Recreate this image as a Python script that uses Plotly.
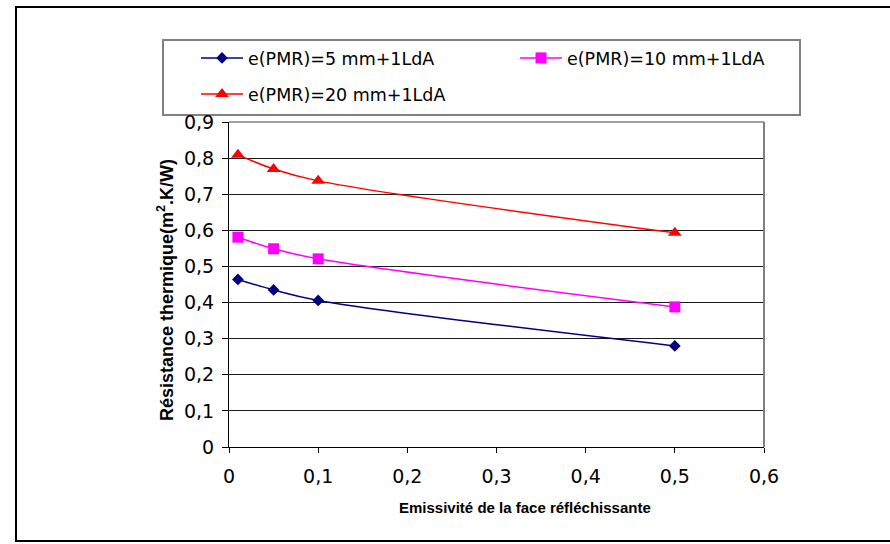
import plotly.graph_objects as go

emissivity = [0.01, 0.05, 0.1, 0.5]
r_5mm = [0.464, 0.435, 0.406, 0.280]
r_10mm = [0.581, 0.549, 0.521, 0.388]
r_20mm = [0.809, 0.770, 0.737, 0.593]

names = ["e(PMR)=5 mm+1LdA", "e(PMR)=10 mm+1LdA", "e(PMR)=20 mm+1LdA"]
x_ticks = [0, 0.1, 0.2, 0.3, 0.4, 0.5, 0.6]
x_ticktext = ["0", "0,1", "0,2", "0,3", "0,4", "0,5", "0,6"]
y_ticks = [0, 0.1, 0.2, 0.3, 0.4, 0.5, 0.6, 0.7, 0.8, 0.9]
y_ticktext = ["0", "0,1", "0,2", "0,3", "0,4", "0,5", "0,6", "0,7", "0,8", "0,9"]

W, H = 890, 544
L, R, T, B = 229, 764, 122, 447
pw, ph = R - L, B - T

def px(x):
    return (x - L) / pw

def py(y):
    return (B - y) / ph

FONT = "Liberation Sans, Arial, sans-serif"
WIDE = "DejaVu Sans, Verdana, sans-serif"

fig = go.Figure()
fig.add_trace(go.Scatter(x=emissivity, y=r_5mm, name=names[0], mode="lines+markers",
                         line=dict(color="#000080", width=1.5, shape="spline"),
                         marker=dict(symbol="diamond", size=9, color="#000080"),
                         legend="legend"))
fig.add_trace(go.Scatter(x=emissivity, y=r_10mm, name=names[1], mode="lines+markers",
                         line=dict(color="#FF00FF", width=1.5, shape="spline"),
                         marker=dict(symbol="square", size=11, color="#FF00FF"),
                         legend="legend"))
fig.add_trace(go.Scatter(x=emissivity, y=r_20mm, name=names[2], mode="lines+markers",
                         line=dict(color="#FF0000", width=1.5, shape="spline"),
                         marker=dict(symbol="triangle-up", size=12, color="#FF0000"),
                         legend="legend2"))

legend_common = dict(orientation="h", xanchor="left", yanchor="middle",
                     bgcolor="rgba(0,0,0,0)", borderwidth=0,
                     font=dict(family=WIDE, size=17.5, color="#000"),
                     entrywidthmode="pixels", entrywidth=262, itemwidth=42)

fig.update_layout(
    width=W, height=H,
    margin=dict(l=L, r=W - R, t=T, b=H - B),
    paper_bgcolor="white", plot_bgcolor="white",
    font=dict(family=FONT, size=14, color="#000"),
    showlegend=True,
    legend=dict(x=px(196), y=py(58), **legend_common),
    legend2=dict(x=px(196), y=py(94), **legend_common),
    xaxis=dict(range=[0, 0.6], tickvals=x_ticks, ticktext=x_ticktext,
               showgrid=False, zeroline=False, showline=True, linecolor="#000", linewidth=1,
               ticks="outside", ticklen=5, tickcolor="#000", tickwidth=1,
               ticklabelstandoff=7, tickfont=dict(family=WIDE, size=19)),
    yaxis=dict(range=[0, 0.9], tickvals=y_ticks, ticktext=y_ticktext,
               showgrid=True, gridcolor="#1a1a1a", gridwidth=1, zeroline=False,
               showline=True, linecolor="#000", linewidth=1,
               ticks="outside", ticklen=6, tickcolor="#000", tickwidth=1,
               ticklabelstandoff=4, tickfont=dict(family=WIDE, size=19)),
    shapes=[
        # outer chart frame
        dict(type="rect", xref="paper", yref="paper",
             x0=px(16), x1=px(900), y0=py(541), y1=py(7),
             line=dict(color="#000", width=2), layer="below"),
        # legend frame
        dict(type="rect", xref="paper", yref="paper",
             x0=px(163), x1=px(800), y0=py(115), y1=py(40),
             line=dict(color="#808080", width=2), layer="below"),
        # plot area frame (top / right)
        dict(type="line", xref="paper", yref="paper", x0=0, x1=1, y0=1, y1=1,
             line=dict(color="#808080", width=1.5)),
        dict(type="line", xref="paper", yref="paper", x0=1, x1=1, y0=0, y1=1,
             line=dict(color="#808080", width=2)),
    ],
    annotations=[
        dict(text="Résistance thermique(m<sup>2</sup>.K/W)", xref="paper", yref="paper",
             x=px(165), y=py(290), xanchor="center", yanchor="middle", textangle=-90,
             showarrow=False, font=dict(family=FONT, size=18, color="#000", weight="bold")),
        dict(text="Emissivité de la face réfléchissante", xref="paper", yref="paper",
             x=px(525), y=py(508), xanchor="center", yanchor="middle",
             showarrow=False, font=dict(family=FONT, size=15, color="#000", weight="bold")),
    ],
)

fig.write_html("out.html")
